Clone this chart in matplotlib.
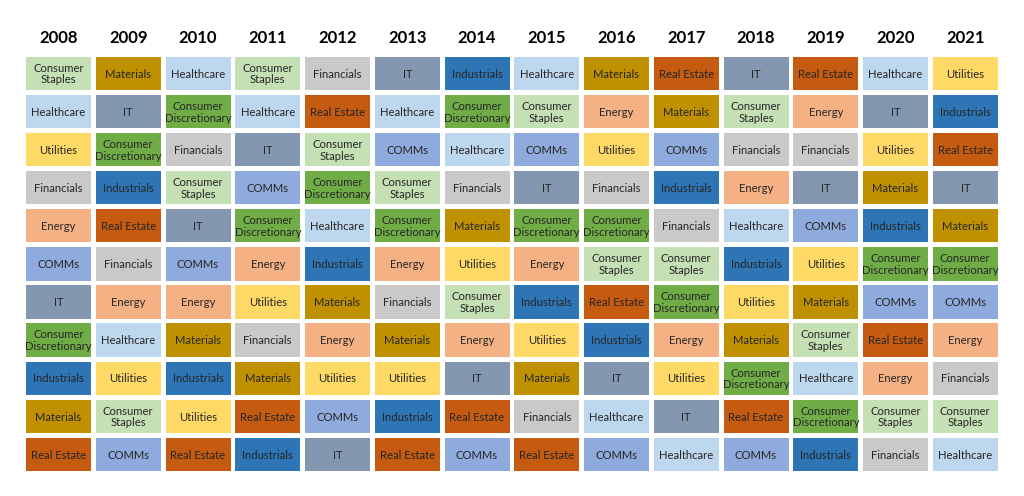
# sector ranking grid, 2008-2021
import matplotlib.pyplot as plt
from matplotlib.patches import Rectangle

# datos: ranking de sectores por anio (de arriba a abajo)
years = ["2008", "2009", "2010", "2011", "2012", "2013", "2014",
         "2015", "2016", "2017", "2018", "2019", "2020", "2021"]

r2008 = ["Consumer Staples", "Healthcare", "Utilities", "Financials", "Energy", "COMMs",
         "IT", "Consumer Discretionary", "Industrials", "Materials", "Real Estate"]
r2009 = ["Materials", "IT", "Consumer Discretionary", "Industrials", "Real Estate", "Financials",
         "Energy", "Healthcare", "Utilities", "Consumer Staples", "COMMs"]
r2010 = ["Healthcare", "Consumer Discretionary", "Financials", "Consumer Staples", "IT", "COMMs",
         "Energy", "Materials", "Industrials", "Utilities", "Real Estate"]
r2011 = ["Consumer Staples", "Healthcare", "IT", "COMMs", "Consumer Discretionary", "Energy",
         "Utilities", "Financials", "Materials", "Real Estate", "Industrials"]
r2012 = ["Financials", "Real Estate", "Consumer Staples", "Consumer Discretionary", "Healthcare",
         "Industrials", "Materials", "Energy", "Utilities", "COMMs", "IT"]
r2013 = ["IT", "Healthcare", "COMMs", "Consumer Staples", "Consumer Discretionary", "Energy",
         "Financials", "Materials", "Utilities", "Industrials", "Real Estate"]
r2014 = ["Industrials", "Consumer Discretionary", "Healthcare", "Financials", "Materials",
         "Utilities", "Consumer Staples", "Energy", "IT", "Real Estate", "COMMs"]
r2015 = ["Healthcare", "Consumer Staples", "COMMs", "IT", "Consumer Discretionary", "Energy",
         "Industrials", "Utilities", "Materials", "Financials", "Real Estate"]
r2016 = ["Materials", "Energy", "Utilities", "Financials", "Consumer Discretionary",
         "Consumer Staples", "Real Estate", "Industrials", "IT", "Healthcare", "COMMs"]
r2017 = ["Real Estate", "Materials", "COMMs", "Industrials", "Financials", "Consumer Staples",
         "Consumer Discretionary", "Energy", "Utilities", "IT", "Healthcare"]
r2018 = ["IT", "Consumer Staples", "Financials", "Energy", "Healthcare", "Industrials",
         "Utilities", "Materials", "Consumer Discretionary", "Real Estate", "COMMs"]
r2019 = ["Real Estate", "Energy", "Financials", "IT", "COMMs", "Utilities", "Materials",
         "Consumer Staples", "Healthcare", "Consumer Discretionary", "Industrials"]
r2020 = ["Healthcare", "IT", "Utilities", "Materials", "Industrials", "Consumer Discretionary",
         "COMMs", "Real Estate", "Energy", "Consumer Staples", "Financials"]
r2021 = ["Utilities", "Industrials", "Real Estate", "IT", "Materials", "Consumer Discretionary",
         "COMMs", "Energy", "Financials", "Consumer Staples", "Healthcare"]

rankings = [r2008, r2009, r2010, r2011, r2012, r2013, r2014,
            r2015, r2016, r2017, r2018, r2019, r2020, r2021]

# colores por sector
colors = {
    "Consumer Staples": "#C5E0B4",
    "Healthcare": "#BDD7EE",
    "Utilities": "#FFD966",
    "Financials": "#C9C9C9",
    "Energy": "#F4B183",
    "COMMs": "#8FAADC",
    "IT": "#8497B0",
    "Consumer Discretionary": "#70AD47",
    "Industrials": "#2E75B6",
    "Materials": "#BF9000",
    "Real Estate": "#C55A11",
}
labels = {
    "Consumer Staples": "Consumer\nStaples",
    "Consumer Discretionary": "Consumer\nDiscretionary",
}

# geometria (pixeles)
W, H = 1024, 496
x0, y0 = 26, 56.7
pitch_x, pitch_y = 69.75, 38.1
cell_w, cell_h = 65 / pitch_x, 33.3 / pitch_y
ncol, nrow = len(years), len(r2008)

fig = plt.figure(figsize=(W / 100, H / 100), dpi=100)
ax = fig.add_axes([x0 / W, 1 - (y0 + nrow * pitch_y) / H,
                   ncol * pitch_x / W, nrow * pitch_y / H])
ax.set_xlim(0, ncol)
ax.set_ylim(nrow, 0)
ax.axis("off")

for i, col in enumerate(rankings):
    ax.text(i + cell_w / 2, -0.5, years[i], ha="center", va="center",
            fontsize=12, fontweight="bold", family="Lato", color="black",
            clip_on=False)
    for j, sector in enumerate(col):
        ax.add_patch(Rectangle((i, j), cell_w, cell_h, facecolor=colors[sector],
                               edgecolor="none"))
        ax.text(i + cell_w / 2, j + cell_h / 2 + 0.02, labels.get(sector, sector),
                ha="center", va="center", fontsize=8.1, family="Lato",
                color="#262626", linespacing=1.08)

fig.savefig("out.png", dpi=100)
